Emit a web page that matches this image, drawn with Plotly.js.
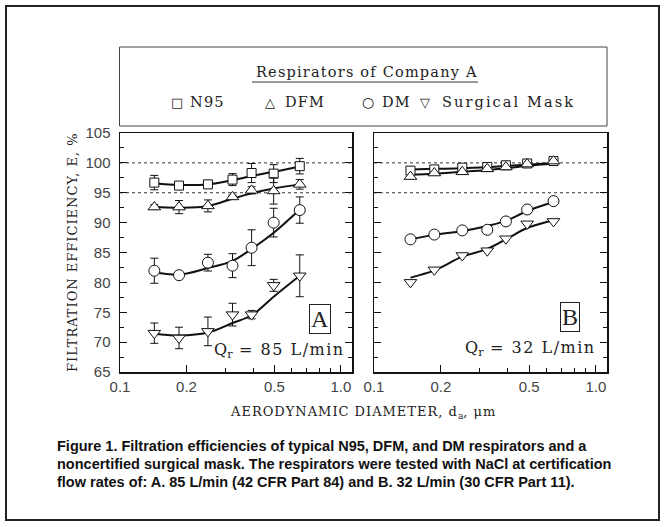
<!DOCTYPE html>
<html>
<head>
<meta charset="utf-8">
<script src="https://cdn.plot.ly/plotly-3.0.1.min.js"></script>
<style>html,body{margin:0;padding:0;background:#fff;}#chart{width:666px;height:527px;}</style>
</head>
<body>
<div id="chart"></div>
<script>
// ---------- data ----------
const seriesNames = ["N95", "DFM", "DM", "Surgical Mask"];

// Panel A: Qr = 85 L/min
const xA = [0.143, 0.185, 0.25, 0.323, 0.394, 0.496, 0.651];
const n95A = [96.7, 96.2, 96.4, 97.2, 98.3, 98.2, 99.45];
const n95AErr = [1.2, 0.3, 0.3, 1.0, 1.6, 1.5, 1.3];
const n95AFit = [96.6, 96.3, 96.4, 97.1, 97.8, 98.5, 99.4];
const dfmA = [92.6, 92.6, 92.8, 94.3, 95.4, 95.3, 96.4];
const dfmAErr = [0.4, 1.1, 1.0, 0.3, 0.6, 2.2, 0.8];
const dfmAFit = [92.6, 92.5, 92.8, 94.0, 94.9, 95.7, 96.4];
const dmA = [81.95, 81.2, 83.3, 82.8, 85.8, 90.0, 92.1];
const dmAErr = [2.1, 0.4, 1.4, 2.0, 3.0, 2.4, 2.2];
const dmAFit = [81.7, 81.3, 82.4, 83.6, 85.6, 88.3, 92.2];
const smA = [71.5, 70.7, 71.8, 74.6, 74.6, 79.5, 81.1];
const smAErr = [1.7, 1.8, 2.4, 1.9, 0.7, 1.0, 3.5];
const smAFit = [71.4, 71.1, 71.6, 73.2, 74.5, 77.6, 81.1];

// Panel B: Qr = 32 L/min
const xB = [0.146, 0.187, 0.25, 0.324, 0.393, 0.49, 0.644];
const n95B = [98.7, 98.9, 99.2, 99.3, 99.6, 99.9, 100.3];
const n95BFit = [98.9, 99.0, 99.1, 99.3, 99.5, 99.7, 100.0];
const dfmB = [97.7, 98.3, 98.5, 99.0, 99.3, 99.8, 100.3];
const dfmBFit = [98.0, 98.2, 98.5, 98.8, 99.1, 99.5, 99.9];
const dmB = [87.2, 88.0, 88.7, 88.8, 90.2, 92.2, 93.6];
const dmBFit = [87.2, 87.95, 88.6, 89.45, 90.3, 91.95, 93.45];
const smB = [80.0, 82.1, 84.5, 85.3, 87.3, 89.8, 90.2];
const smBFit = [80.8, 82.0, 84.3, 85.6, 87.2, 89.1, 90.4];

const xTickVals = [0.1, 0.2, 0.5, 1.0];
const xTickText = ["0.1", "0.2", "0.5", "1.0"];
const xMinorVals = [0.3, 0.4, 0.6, 0.7, 0.8, 0.9];
const refLines = [100, 95];

// ---------- helpers ----------
const W = 666, H = 527;
const px = v => v / W;
const py = v => 1 - v / H;
const serif = "DejaVu Serif, Liberation Serif, serif";
const ink = "#111";
const sp = (t, s) => '<span style="letter-spacing:' + s + 'px">' + t + '</span>';

function fit(x, y, xa, ya) {
  return {x, y, xaxis: xa, yaxis: ya, mode: "lines", type: "scatter",
    line: {color: ink, width: 2, shape: "spline", smoothing: 1},
    hoverinfo: "skip", showlegend: false};
}
function pts(x, y, err, sym, size, xa, ya, name) {
  const t = {x, y, xaxis: xa, yaxis: ya, mode: "markers", type: "scatter", name,
    marker: {symbol: sym, size, color: "white", line: {color: ink, width: 1}},
    showlegend: false};
  if (err) t.error_y = {type: "data", array: err, visible: true, width: 4, thickness: 1, color: ink};
  return t;
}

const data = [
  fit(xA, n95AFit, "x", "y"), fit(xA, dfmAFit, "x", "y"), fit(xA, dmAFit, "x", "y"), fit(xA, smAFit, "x", "y"),
  pts(xA, n95A, n95AErr, "square", 9, "x", "y", seriesNames[0]),
  pts(xA, dfmA, dfmAErr, "triangle-up", 11, "x", "y", seriesNames[1]),
  pts(xA, dmA, dmAErr, "circle", 11, "x", "y", seriesNames[2]),
  pts(xA, smA, smAErr, "triangle-down", 11, "x", "y", seriesNames[3]),
  fit(xB, n95BFit, "x2", "y2"), fit(xB, dfmBFit, "x2", "y2"), fit(xB, dmBFit, "x2", "y2"), fit(xB, smBFit, "x2", "y2"),
  pts(xB, n95B, null, "square", 9, "x2", "y2", seriesNames[0]),
  pts(xB, dfmB, null, "triangle-up", 11, "x2", "y2", seriesNames[1]),
  pts(xB, dmB, null, "circle", 11, "x2", "y2", seriesNames[2]),
  pts(xB, smB, null, "triangle-down", 11, "x2", "y2", seriesNames[3])
];

const tickFont = {family: "Liberation Sans, Arial, sans-serif", size: 15, color: "#444"};
function xAxis(dom, anchor) {
  return {type: "log", domain: dom, range: [-1, 0.05], anchor,
    tickmode: "array", tickvals: xTickVals, ticktext: xTickText,
    ticks: "inside", ticklen: 7, tickwidth: 1, tickcolor: ink,
    minor: {tickmode: "array", tickvals: xMinorVals, ticks: "inside", ticklen: 4, tickwidth: 1, tickcolor: ink},
    showline: true, linecolor: ink, linewidth: 1.5, mirror: true,
    showgrid: false, zeroline: false, tickfont: tickFont};
}
function yAxis(anchor, labels) {
  return {domain: [py(372), py(133)], range: [65, 105], anchor,
    tickmode: "linear", tick0: 65, dtick: 5,
    ticks: "inside", ticklen: 7, tickwidth: 1, tickcolor: ink,
    minor: {dtick: 2.5, ticks: "inside", ticklen: 4, tickwidth: 1, tickcolor: ink},
    showline: true, linecolor: ink, linewidth: 1.5, mirror: "allticks",
    showgrid: false, zeroline: false, showticklabels: labels, tickfont: tickFont,
    ticklabelstandoff: 5};
}

const shapes = [
  {type: "rect", xref: "paper", yref: "paper", x0: px(6), x1: px(659), y0: py(520), y1: py(6),
    line: {color: "#222", width: 2}},
  {type: "rect", xref: "paper", yref: "paper", x0: px(119.5), x1: px(607), y0: py(126), y1: py(47),
    line: {color: "#444", width: 1}},
  {type: "line", xref: "paper", yref: "paper", x0: px(252), x1: px(478), y0: py(82), y1: py(82),
    line: {color: "#333", width: 1}}
];
refLines.forEach(v => {
  ["x", "x2"].forEach((xa, i) => {
    shapes.push({type: "line", xref: xa + " domain", yref: i ? "y2" : "y", x0: 0, x1: 1, y0: v, y1: v,
      layer: "below", line: {color: "#333", width: 1, dash: "dot"}});
  });
});

const legFont = {family: serif, size: 14.5, color: "#222"};
const symFont = {family: serif, size: 13, color: "#222"};
const ann = (x, y, text, extra) => Object.assign({xref: "paper", yref: "paper", x: px(x), y: py(y),
  text, showarrow: false, font: legFont, xanchor: "center", yanchor: "middle"}, extra || {});

const captionFont = {family: "Liberation Sans, Arial, sans-serif", size: 14.5, color: "#111", weight: "bold"};
const titleFont = {family: serif, size: 13, color: "#222"};
const qFont = {family: serif, size: 16, color: "#222"};
const annotations = [
  ann(367, 72, sp("Respirators of Company A", 1.2)),
  ann(177, 102, "□", {font: symFont}),
  ann(188, 102, sp(seriesNames[0], 1.2), {xanchor: "left"}),
  ann(270, 102, "△", {font: symFont}),
  ann(283, 102, sp(seriesNames[1], 1.2), {xanchor: "left"}),
  ann(368, 102, "○", {font: {family: serif, size: 14, color: "#222"}}),
  ann(380, 102, sp(seriesNames[2], 1.2), {xanchor: "left"}),
  ann(425, 102, "▽", {font: symFont}),
  ann(440, 102, sp(seriesNames[3], 2.1), {xanchor: "left"}),
  ann(72, 252, sp("FILTRATION EFFICIENCY, E, %", 1), {textangle: -90, font: titleFont}),
  ann(363, 412, sp("AERODYNAMIC DIAMETER, d", 1) + "<sub>a</sub>" + sp(", μm", 1), {font: titleFont}),
  ann(319.5, 318.5, "A", {font: {family: "Liberation Serif, serif", size: 24, color: "#222"},
    bordercolor: "#222", borderwidth: 1, borderpad: 1}),
  ann(570, 317, "B", {font: {family: "Liberation Serif, serif", size: 24, color: "#222"},
    bordercolor: "#222", borderwidth: 1, borderpad: 1}),
  ann(279.5, 350, "Q<sub>r</sub>" + sp(" = 85 L/min", 1.5), {font: qFont}),
  ann(530.5, 348, "Q<sub>r</sub>" + sp(" = 32 L/min", 1.5), {font: qFont}),
  ann(55, 446, "Figure 1. Filtration efficiencies of typical N95, DFM, and DM respirators and a", {xanchor: "left", font: captionFont}),
  ann(55, 464, "noncertified surgical mask. The respirators were tested with NaCl at certification", {xanchor: "left", font: captionFont}),
  ann(55, 482, "flow rates of: A. 85 L/min (42 CFR Part 84) and B. 32 L/min (30 CFR Part 11).", {xanchor: "left", font: captionFont})
];

const layout = {
  width: W, height: H, margin: {l: 0, r: 0, t: 0, b: 0},
  paper_bgcolor: "white", plot_bgcolor: "white", showlegend: false,
  xaxis: xAxis([px(120), px(352)], "y"),
  xaxis2: xAxis([px(374), px(607)], "y2"),
  yaxis: yAxis("x", true),
  yaxis2: yAxis("x2", false),
  shapes, annotations
};

Plotly.newPlot("chart", data, layout, {staticPlot: true, displayModeBar: false});
</script>
</body>
</html>
